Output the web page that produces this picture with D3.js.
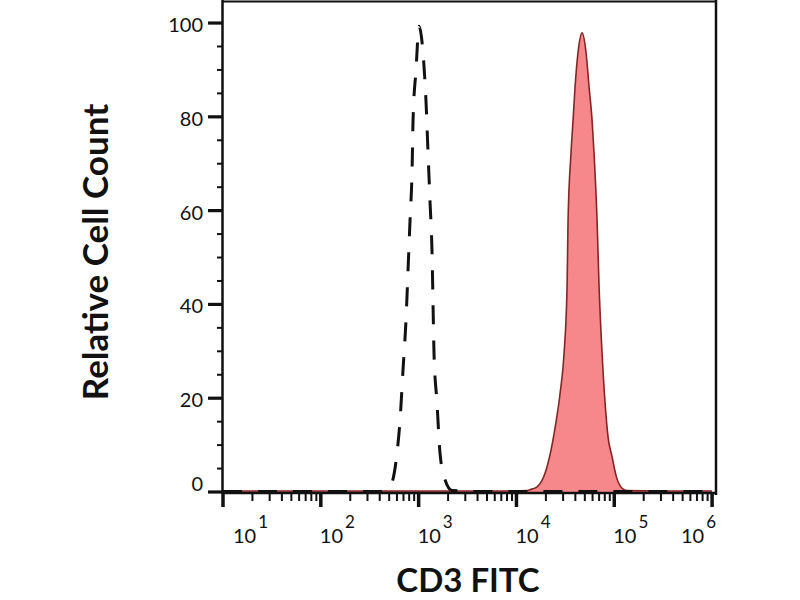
<!DOCTYPE html>
<html>
<head>
<meta charset="utf-8">
<script src="https://cdn.jsdelivr.net/npm/d3@7"></script>
<style>
  html, body { margin: 0; padding: 0; background: #fff; }
  svg { display: block; }
  text { font-family: Lato, "Open Sans", "DejaVu Sans", sans-serif; fill: #111; }
</style>
</head>
<body>
<svg id="chart" width="800" height="600"></svg>
<script>
// ---- Data ----
// Isotype control (dashed): fluorescence intensity and relative cell count
const controlIntensity = [10, 50, 200, 400, 453, 510, 601, 646, 692, 743, 779, 817, 857, 877, 940, 1010, 1109, 1191, 1248, 1309, 1371, 1403, 1436, 1541, 1654, 1862, 2193, 5000, 100000, 1000000];
const controlCount     = [0.1, 0.1, 0.1, 0.1, 0.5, 1.1, 8.3, 15.4, 26, 36.7, 47.3, 58, 68.7, 79.3, 90, 99.3, 93.6, 83, 72.3, 61.6, 51, 40.3, 29.6, 19, 8.3, 2.6, 0.3, 0.1, 0.1, 0.1];
// CD3 FITC stained cells (filled red)
const cd3Intensity = [10, 1000, 9000, 12820, 13770, 16250, 19590, 22580, 25410, 27920, 30680, 32910, 33700, 36120, 37910, 39740, 42660, 46880, 51510, 55250, 59300, 62110, 66680, 69950, 75040, 80540, 86420, 95040, 104300, 120200, 135200, 300000, 1000000];
const cd3Count     = [0.2, 0.2, 0.2, 0.3, 0.5, 1.1, 4, 9, 15, 21, 29.6, 43.7, 58, 72.3, 79.3, 86.4, 93.8, 97.9, 93.6, 86.4, 79.3, 72.3, 58, 43.7, 29.6, 19, 11.7, 7.5, 3.5, 0.8, 0.3, 0.2, 0.2];
// Axis ticks
const yMajorTicks = [0, 20, 40, 60, 80, 100];
const yTickLabels = ["0", "20", "40", "60", "80", "100"];
const xDecades = [10, 100, 1000, 10000, 100000, 1000000];
const xTickBase = ["10", "10", "10", "10", "10", "10"];
const xTickExp = ["1", "2", "3", "4", "5", "6"];
const xAxisTitle = "CD3 FITC";
const yAxisTitle = "Relative Cell Count";

// ---- Layout ----
const svg = d3.select("#chart");
const x = d3.scaleLog().domain([10, Math.pow(10, 6.04)]).range([223, 716]);
const y = d3.scaleLinear().domain([0, 104.7]).range([492, 1]);
const axisY = 493;

const control = controlIntensity.map((v, i) => [v, controlCount[i]]);
const cd3 = cd3Intensity.map((v, i) => [v, cd3Count[i]]);

const area = d3.area()
  .x(d => x(d[0])).y0(y(0)).y1(d => y(d[1]))
  .curve(d3.curveMonotoneX);
const line = d3.line()
  .x(d => x(d[0])).y(d => y(d[1]))
  .curve(d3.curveMonotoneX);

// red filled histogram
svg.append("path").datum(cd3)
  .attr("d", area)
  .attr("fill", "#f6878a");
svg.append("path").datum(cd3)
  .attr("d", line)
  .attr("fill", "none")
  .attr("stroke", "#842626")
  .attr("stroke-width", 1.6);

// dashed control
svg.append("path").datum(control)
  .attr("d", line)
  .attr("fill", "none")
  .attr("stroke", "#111")
  .attr("stroke-width", 3)
  .attr("stroke-dasharray", "19,16");

// ---- Frame ----
const x0 = x.range()[0], x1 = x.range()[1];
svg.append("line").attr("x1", x0 - 1).attr("x2", x1 + 1).attr("y1", 1.5).attr("y2", 1.5)
  .attr("stroke", "#111").attr("stroke-width", 2);
svg.append("line").attr("x1", x1).attr("x2", x1).attr("y1", 0).attr("y2", axisY + 2)
  .attr("stroke", "#111").attr("stroke-width", 2.5);
svg.append("line").attr("x1", x0 - 0.5).attr("x2", x0 - 0.5).attr("y1", 0).attr("y2", axisY + 1)
  .attr("stroke", "#111").attr("stroke-width", 2.5);
svg.append("line").attr("x1", x0 - 1).attr("x2", x1 + 1).attr("y1", axisY).attr("y2", axisY)
  .attr("stroke", "#111").attr("stroke-width", 2.5);

// ---- Y axis ticks ----
const yMinor = d3.range(5, 100, 5).filter(v => v % 20 !== 0);
svg.selectAll(".ymin").data(yMinor).enter().append("line")
  .attr("x1", x0 - 6).attr("x2", x0).attr("y1", d => y(d)).attr("y2", d => y(d))
  .attr("stroke", "#111").attr("stroke-width", 2);
svg.selectAll(".ymaj").data(yMajorTicks).enter().append("line")
  .attr("x1", x0 - 15).attr("x2", x0).attr("y1", d => y(d)).attr("y2", d => y(d))
  .attr("stroke", "#111").attr("stroke-width", 3.2);
svg.selectAll(".ylab").data(yMajorTicks).enter().append("text")
  .attr("x", x0 - 20)
  .attr("y", d => y(d) + (d === 0 ? -1 : 9))
  .attr("text-anchor", "end")
  .attr("font-size", 20)
  .text((d, i) => yTickLabels[i]);

// ---- X axis ticks ----
const xMinor = [];
xDecades.slice(0, -1).forEach(d => { for (let k = 2; k <= 9; k++) xMinor.push(d * k); });
svg.selectAll(".xmin").data(xMinor).enter().append("line")
  .attr("x1", d => x(d)).attr("x2", d => x(d)).attr("y1", axisY).attr("y2", axisY + 8)
  .attr("stroke", "#111").attr("stroke-width", 2);
svg.selectAll(".xmaj").data(xDecades).enter().append("line")
  .attr("x1", d => x(d)).attr("x2", d => x(d)).attr("y1", axisY).attr("y2", axisY + 14)
  .attr("stroke", "#111").attr("stroke-width", 3.5);

const xl = svg.selectAll(".xlab").data(xDecades).enter().append("text")
  .attr("x", (d, i) => x(d) + (i === 0 ? 10 : (i === xDecades.length - 1 ? 4 : -1)))
  .attr("y", 543)
  .attr("text-anchor", (d, i) => i === xDecades.length - 1 ? "end" : "start")
  .attr("font-size", 20);
xl.append("tspan").text((d, i) => xTickBase[i]);
xl.append("tspan").attr("dy", -15).attr("dx", 2).attr("font-size", 17).text((d, i) => xTickExp[i]);

// ---- Axis titles ----
svg.append("text")
  .attr("x", 468).attr("y", 592)
  .attr("text-anchor", "middle")
  .attr("font-size", 33).attr("font-weight", "bold")
  .text(xAxisTitle);
svg.append("text")
  .attr("transform", "translate(108,252) rotate(-90)")
  .attr("text-anchor", "middle")
  .attr("font-size", 35).attr("font-weight", "bold")
  .text(yAxisTitle);
</script>
</body>
</html>
